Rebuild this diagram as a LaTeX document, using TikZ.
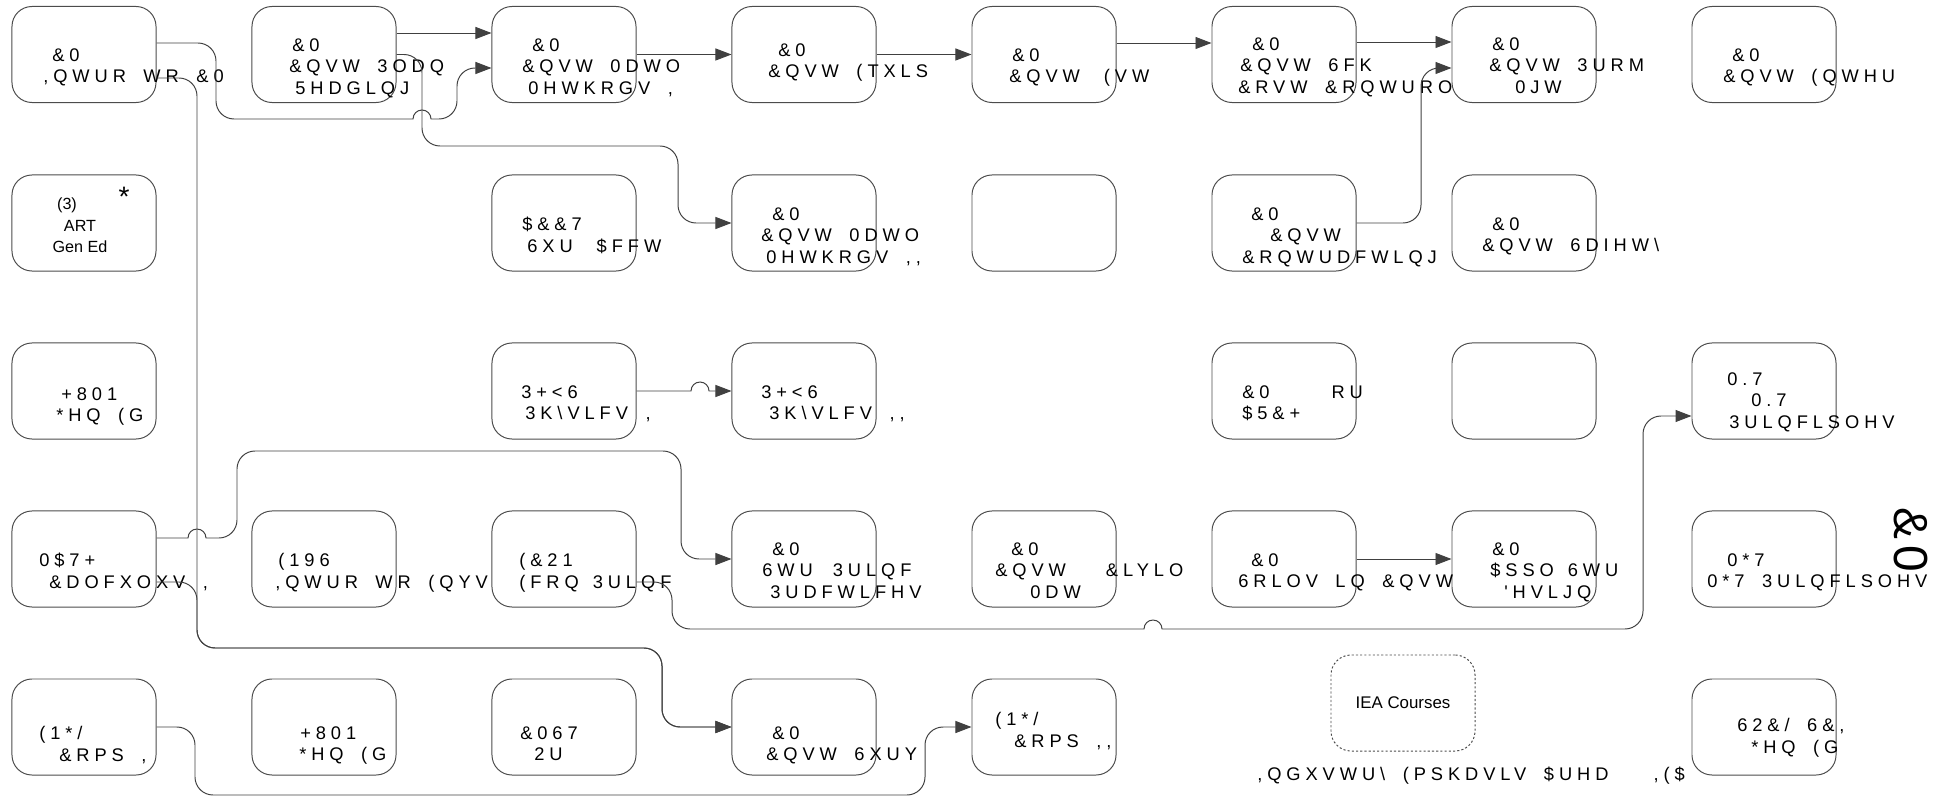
\documentclass[tikz,border=0pt]{standalone}
\usepackage{fontspec}
\setmainfont{Liberation Sans}
\newfontfamily\garbled[LetterSpace=27, WordSpace=1.75]{Liberation Sans}
\usetikzlibrary{arrows.meta,calc}
\newlength\pxu
\setlength\pxu{0.025cm}
\def\ind#1{\hspace*{#1\pxu}}

\begin{document}
\begin{tikzpicture}[x=0.025cm, y=-0.025cm,
  course/.style={draw=black!70, line width=0.7pt, rounded corners=0.5cm, minimum width=3.6cm, minimum height=2.4cm, inner sep=0},
  iea/.style={course, dash pattern=on 1.5pt off 1.5pt, font=\fontsize{12}{14}\selectfont},
  lbl/.style={anchor=north west, align=left, inner sep=0, font=\garbled\fontsize{13}{15.5}\selectfont},
  conn/.style={draw=black!75, line width=0.7pt, rounded corners=0.45cm, -{Triangle[length=0.4cm, width=0.3cm]}}]
\useasboundingbox (0,0) rectangle (1952,800);

\node (INTRO) at (84,54.5) [course] {};
\node (PLAN) at (324,54.5) [course] {};
\node (MATLA) at (564,54.5) [course] {};
\node (EQUIP) at (804,54.5) [course] {};
\node (EST) at (1044,54.5) [course] {};
\node (SCHED) at (1284,54.5) [course] {};
\node (PM) at (1524,54.5) [course] {};
\node (ENTER) at (1764,54.5) [course] {};

\node (ART) at (84,223) [course] {};
\node (ACCT) at (564,223) [course] {};
\node (MATLB) at (804,223) [course] {};
\node (BLANKA) at (1044,223) [course] {};
\node (CONTR) at (1284,223) [course] {};
\node (SAFETY) at (1524,223) [course] {};

\node (HMNLA) at (84,391) [course] {};
\node (PHYSA) at (564,391) [course] {};
\node (PHYSB) at (804,391) [course] {};
\node (ARCH) at (1284,391) [course] {};
\node (BLANKB) at (1524,391) [course] {};
\node (MKT) at (1764,391) [course] {};

\node (MATH) at (84,559) [course] {};
\node (ENVS) at (324,559) [course] {};
\node (ECON) at (564,559) [course] {};
\node (STRPR) at (804,559) [course] {};
\node (CIVIL) at (1044,559) [course] {};
\node (SOILS) at (1284,559) [course] {};
\node (ASD) at (1524,559) [course] {};
\node (MGT) at (1764,559) [course] {};

\node (ENGLA) at (84,727) [course] {};
\node (HMNLB) at (324,727) [course] {};
\node (CMST) at (564,727) [course] {};
\node (SURV) at (804,727) [course] {};
\node (ENGLB) at (1044,727) [course] {};
\node (IEA) at (1403,703) [iea] {IEA Courses};
\node (SOCL) at (1764,727) [course] {};

\node (INTROtxt) at (43,48) [lbl] {\ind{9}\&0\\,QWUR WR \&0};
\node (PLANtxt) at (289,38) [lbl] {\ind{3}\&0\\\&QVW 3ODQ\\\ind{6}5HDGLQJ};
\node (MATLAtxt) at (522,38) [lbl] {\ind{10}\&0\\\&QVW 0DWO\\\ind{6}0HWKRGV ,};
\node (EQUIPtxt) at (768,43) [lbl] {\ind{10}\&0\\\&QVW (TXLS};
\node (ESTtxt) at (1009,48) [lbl] {\ind{3}\&0\\\&QVW\ind{24}(VW};
\node (SCHEDtxt) at (1238,37) [lbl] {\ind{14}\&0\\\ind{2}\&QVW 6FK\\\&RVW \&RQWURO};
\node (PMtxt) at (1489,37) [lbl] {\ind{3}\&0\\\&QVW 3URM\\\ind{26}0JW};
\node (ENTERtxt) at (1723,48) [lbl] {\ind{9}\&0\\\&QVW (QWHU};

\node (ARTtxt) at (80,198) [anchor=north, align=center, inner sep=0, font=\fontsize{11.5}{15}\selectfont] {(3)\ind{26}\\ART\\Gen Ed};
\node (ARTstar) at (124,197) [inner sep=0, font=\fontsize{20}{20}\selectfont] {*};
\node (ACCTtxt) at (522,217) [lbl] {\$\&\&7\\\ind{5}6XU\ind{24}\$FFW};
\node (MATLBtxt) at (761,207) [lbl] {\ind{11}\&0\\\&QVW 0DWO\\\ind{5}0HWKRGV ,,};
\node (CONTRtxt) at (1242,207) [lbl] {\ind{9}\&0\\\ind{28}\&QVW\\\&RQWUDFWLQJ};
\node (SAFETYtxt) at (1482,217) [lbl] {\ind{10}\&0\\\&QVW 6DIHW\textbackslash};

\node (HMNLAtxt) at (56,387) [lbl] {\ind{5}+801\\*HQ (G};
\node (PHYSAtxt) at (521,385) [lbl] {3+<6\\\ind{4}3K\textbackslash VLFV ,};
\node (PHYSBtxt) at (761,385) [lbl] {3+<6\\\ind{8}3K\textbackslash VLFV ,,};
\node (ARCHtxt) at (1242,385) [lbl] {\&0\ind{62}RU\\\$5\&+};
\node (MKTtxt) at (1727,372) [lbl] {0.7\\\ind{24}0.7\\\ind{2}3ULQFLSOHV};

\node (MATHtxt) at (39,553) [lbl] {0\$7+\\\ind{10}\&DOFXOXV ,};
\node (ENVStxt) at (275,553) [lbl] {\ind{3}(196\\,QWUR WR (QYV};
\node (ECONtxt) at (519,553) [lbl] {(\&21\\(FRQ\ind{14}3ULQF};
\node (STRPRtxt) at (762,542) [lbl] {\ind{10}\&0\\6WU\ind{20}3ULQF\\\ind{8}3UDFWLFHV};
\node (CIVILtxt) at (995,542) [lbl] {\ind{16}\&0\\\&QVW\ind{40}\&LYLO\\\ind{35}0DW};
\node (SOILStxt) at (1238,553) [lbl] {\ind{13}\&0\\6RLOV LQ \&QVW};
\node (ASDtxt) at (1490,542) [lbl] {\ind{2}\&0\\\$SSO\ind{14}6WU\\\ind{14}'HVLJQ};
\node (MGTtxt) at (1707,553) [lbl] {\ind{20}0*7\\0*7 3ULQFLSOHV};

\node (ENGLAtxt) at (39,726) [lbl] {(1*/\\\ind{20}\&RPS ,};
\node (HMNLBtxt) at (299,726) [lbl] {\ind{1}+801\\*HQ (G};
\node (CMSTtxt) at (520,726) [lbl] {\&067\\\ind{14}2U};
\node (SURVtxt) at (766,726) [lbl] {\ind{6}\&0\\\&QVW 6XUY};
\node (ENGLBtxt) at (995,712) [lbl] {(1*/\\\ind{19}\&RPS ,,};
\node (SOCLtxt) at (1737,718) [lbl] {62\&/ 6\&,\\\ind{14}*HQ (G};

\node (AREA) at (1257,767) [lbl] {,QGXVWU\textbackslash{} (PSKDVLV \$UHD\ind{45},(\$};
\node (SIDE) at (1911,540) [rotate=-90, inner sep=0, font=\garbled\fontsize{34}{34}\selectfont] {\&\ind{6}0};

\draw [conn] ($(PLAN.east)+(0,-21.5)$) -- ($(MATLA.west)+(0,-21.5)$);
\draw [conn] ($(INTRO.east)+(0,-11.5)$) -- (216,43) -- (216,119) -- (300,119) [sharp corners] -- (413,119) arc[start angle=180, end angle=360, radius=9] -- (431,119) -- (436,119) [rounded corners=0.45cm] -- (457,119) -- (457,68) -- ($(MATLA.west)+(0,13.5)$);
\draw [conn] (PLAN.east) -- (422,54.5) -- (422,146) -- (678,146) -- (678,223) -- (MATLB.west);
\draw [conn] ($(INTRO.east)+(0,23.5)$) -- (197,78) -- (197,648) -- (662,648) -- (662,727) -- (SURV.west);
\draw [conn] ($(MATH.east)+(0,23)$) -- (197,582) -- (197,648) -- (662,648) -- (662,727) -- (SURV.west);
\draw [conn] ($(MATH.east)+(0,-21)$) [sharp corners] -- (188,538) arc[start angle=180, end angle=360, radius=9] -- (206,538) -- (210,538) [rounded corners=0.45cm] -- (237,538) -- (237,451) -- (681,451) -- (681,559) -- (STRPR.west);
\draw [conn] (MATLA) -- (EQUIP);
\draw [conn] (EQUIP) -- (EST);
\draw [conn] ($(EST.east)+(0,-11.5)$) -- ($(SCHED.west)+(0,-11.5)$);
\draw [conn] ($(SCHED.east)+(0,-12.5)$) -- ($(PM.west)+(0,-12.5)$);
\draw [conn] (CONTR.east) -- (1421,223) -- (1421,68) -- ($(PM.west)+(0,13.5)$);
\draw [conn, sharp corners] (PHYSA.east) -- (691,391) arc[start angle=180, end angle=360, radius=9] -- (PHYSB.west);
\draw [conn] ($(ECON.east)+(0,23)$) -- (672,582) -- (672,629) -- (800,629) [sharp corners] -- (1144,629) arc[start angle=180, end angle=360, radius=9] -- (1162,629) -- (1168,629) [rounded corners=0.45cm] -- (1643,629) -- (1643,416) -- ($(MKT.west)+(0,25)$);
\draw [conn] (SOILS) -- (ASD);
\draw [conn] (ENGLA.east) -- (195,727) -- (195,795) -- (925,795) -- (925,727) -- (ENGLB.west);
\end{tikzpicture}
\end{document}
